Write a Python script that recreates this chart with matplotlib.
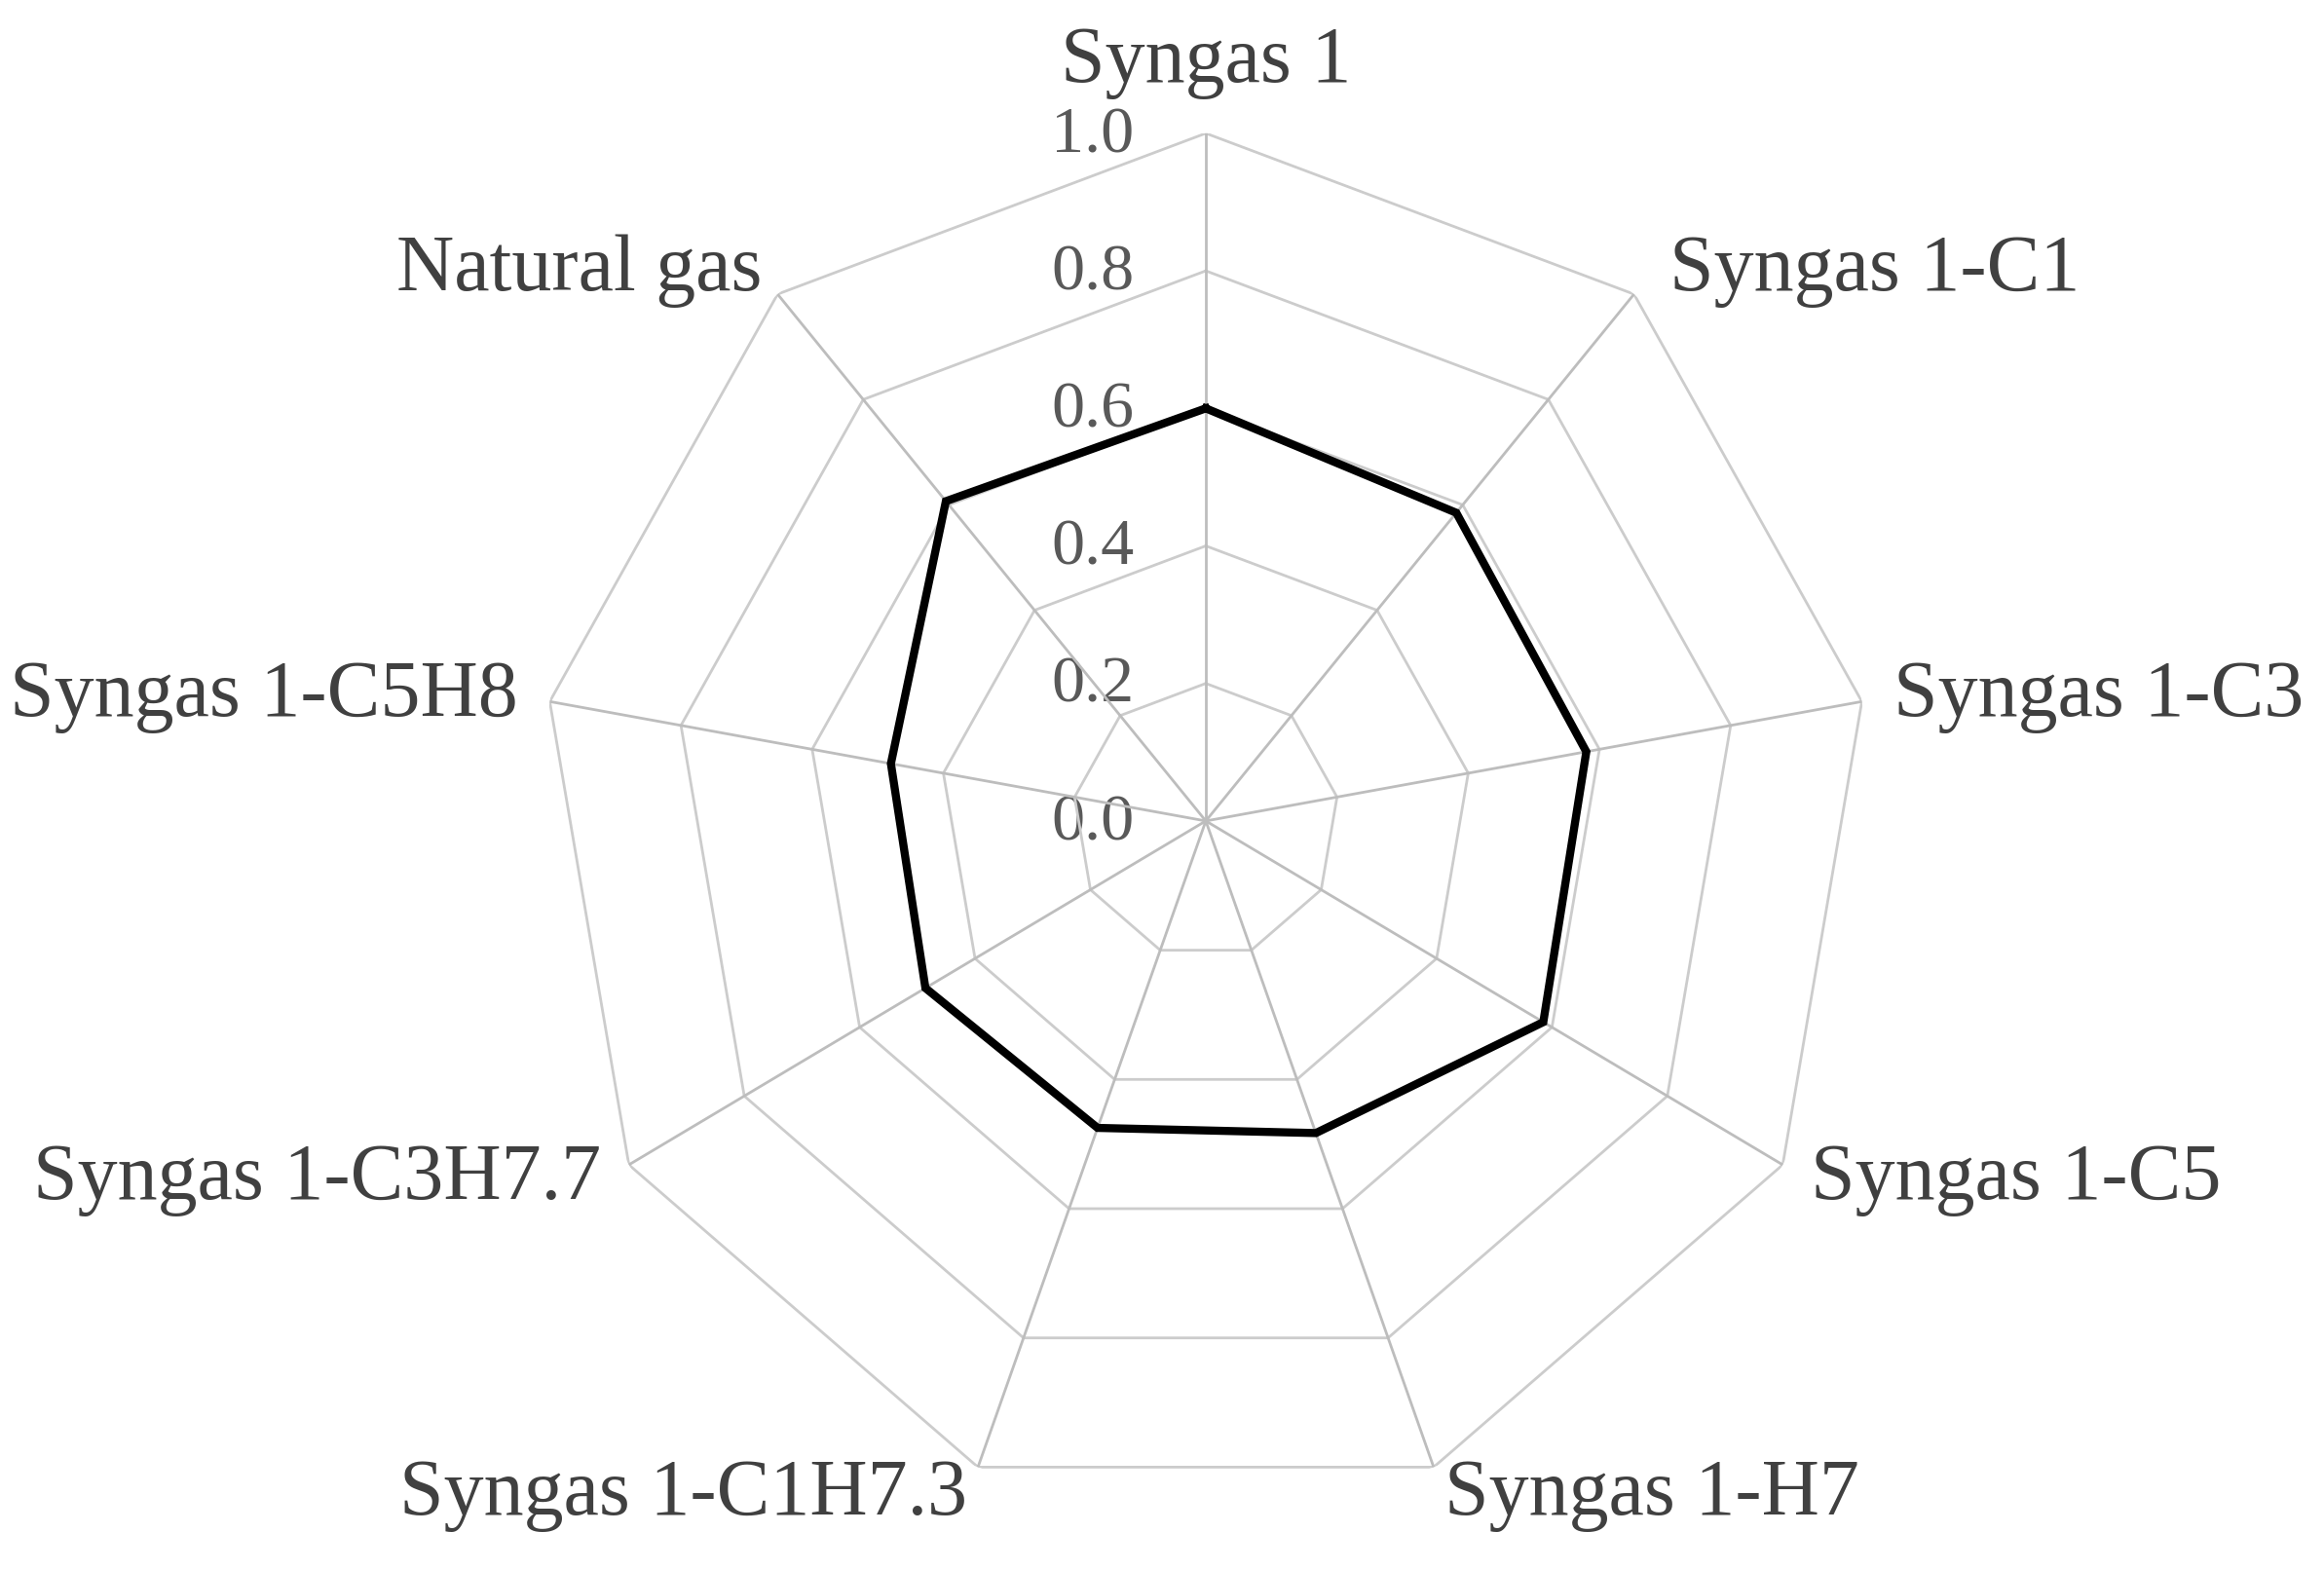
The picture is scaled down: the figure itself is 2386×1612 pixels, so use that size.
import numpy as np
import matplotlib
matplotlib.use("Agg")
import matplotlib.pyplot as plt

# categories, clockwise from the top
categories = ["Syngas 1", "Syngas 1-C1", "Syngas 1-C3", "Syngas 1-C5", "Syngas 1-H7",
              "Syngas 1-C1H7.3", "Syngas 1-C3H7.7", "Syngas 1-C5H8", "Natural gas"]
values = [0.60, 0.585, 0.58, 0.585, 0.483, 0.475, 0.486, 0.48, 0.607]
r_ticks = [0.0, 0.2, 0.4, 0.6, 0.8, 1.0]

plt.rcParams['font.family'] = ['Liberation Serif', 'DejaVu Serif']

n = len(categories)
theta = np.linspace(0, 2 * np.pi, n, endpoint=False)

fig = plt.figure(figsize=(23.86, 16.12), dpi=100)
ax = fig.add_axes([0.2322, 0.0391, 0.5733, 0.876], projection='polar')
ax.set_aspect('auto')
ax.set_theta_offset(np.pi / 2)
ax.set_theta_direction(-1)
ax.set_ylim(0, 1.0)
ax.spines['polar'].set_visible(False)
ax.grid(False)
ax.set_xticks([])
ax.set_yticks([])

# polygon grid rings
th_closed = np.append(theta, theta[0])
for r in r_ticks[1:]:
    ax.plot(th_closed, [r] * (n + 1), color='#cccccc', lw=2.0, zorder=1)
# spokes
for t in theta:
    ax.plot([t, t], [0, 1.0], color='#bdbdbd', lw=2.0, zorder=1)

# radial labels
for r in r_ticks:
    ax.annotate(f"{r:.1f}", xy=(0, r), xytext=(-53, -2), textcoords='offset points',
                ha='right', va='center', fontsize=49, color='#595959', zorder=0)

# data
vals = np.append(values, values[0])
ax.plot(th_closed, vals, color='black', lw=6, zorder=3, solid_joinstyle='miter')

# category labels (small extra x nudges for the upper diagonal ones)
nudge = {"Syngas 1-C1": 11, "Natural gas": 4}
for t, lab in zip(theta, categories):
    s, c = np.sin(t), np.cos(t)
    if abs(s) < 0.1:
        ha, va, dx, dy = 'center', 'bottom', 0, 25
    else:
        ha = 'left' if s > 0 else 'right'
        va, dx, dy = 'center', 24 * s + nudge.get(lab, 0), 22 * c
    ax.annotate(lab, xy=(t, 1.0), xytext=(dx, dy), textcoords='offset points',
                ha=ha, va=va, fontsize=59, color='#404040', annotation_clip=False)

fig.savefig("out.png", dpi=100, facecolor='white')
